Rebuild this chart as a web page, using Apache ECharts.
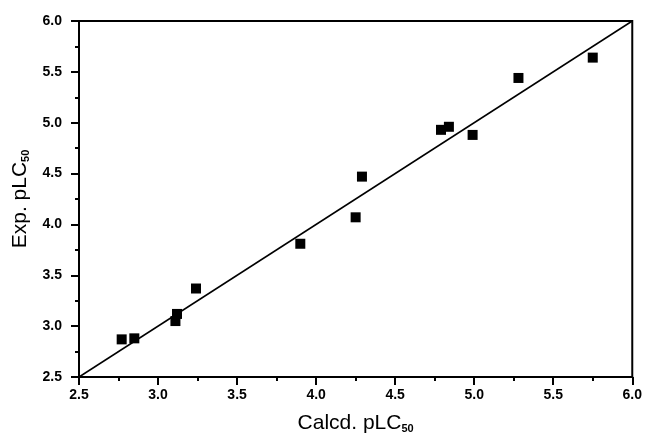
<!DOCTYPE html>
<html>
<head>
<meta charset="utf-8">
<script src="https://cdn.jsdelivr.net/npm/echarts@6/dist/echarts.min.js"></script>
<style>
  html, body { margin: 0; padding: 0; background: #fff; }
  #chart { width: 645px; height: 439px; }
</style>
</head>
<body>
<div id="chart"></div>
<script>
// calculated vs experimental pLC50
const calcd = [2.77, 2.85, 3.11, 3.12, 3.24, 3.90, 4.25, 4.29, 4.79, 4.84, 4.99, 5.28, 5.75]
const exp = [2.87, 2.88, 3.05, 3.12, 3.37, 3.81, 4.07, 4.47, 4.93, 4.96, 4.88, 5.44, 5.64]
const fitLine = [[2.5, 2.5], [6.0, 6.0]]
const axisMin = 2.5
const axisMax = 6.0
const step = 0.5

const points = calcd.map((x, i) => [x, exp[i]])

const nameRich = {
  sub: { fontSize: 11, fontWeight: 'bold', verticalAlign: 'bottom', padding: [11, 0, 0, 0], color: '#000', fontFamily: 'Liberation Sans' }
}

const valueAxis = (name, gap, rotate) => ({
  type: 'value',
  min: axisMin,
  max: axisMax,
  interval: step,
  name: name,
  nameLocation: 'middle',
  nameGap: gap,
  nameRotate: rotate,
  nameTextStyle: { fontSize: 21, color: '#000', fontFamily: 'Liberation Sans', rich: nameRich },
  axisLine: { show: true, lineStyle: { color: '#000', width: 2 } },
  axisTick: { show: true, inside: false, length: 8, lineStyle: { color: '#000', width: 2 } },
  minorTick: { show: true, splitNumber: 2, length: 4, lineStyle: { color: '#000', width: 2 } },
  splitLine: { show: false },
  axisLabel: {
    color: '#000',
    fontSize: 14,
    fontWeight: 'bold',
    fontFamily: 'Liberation Sans',
    formatter: v => v.toFixed(1)
  }
})

const chart = echarts.init(document.getElementById('chart'))
const xAxis = valueAxis('Calcd. pLC{sub|50}', 35, 0)
xAxis.axisLabel.margin = 11
const yAxis = valueAxis('Exp. pLC{sub|50}', 47, 90)
yAxis.axisLabel.margin = 17

chart.setOption({
  animation: false,
  grid: {
    left: 79, right: 10, top: 21, bottom: 59,
    show: true,
    borderColor: '#000',
    borderWidth: 2
  },
  xAxis: xAxis,
  yAxis: yAxis,
  series: [
    {
      type: 'line',
      data: fitLine,
      symbol: 'none',
      lineStyle: { color: '#000', width: 1.5 },
      z: 1
    },
    {
      type: 'scatter',
      data: points,
      symbol: 'rect',
      symbolSize: 10,
      itemStyle: { color: '#000', opacity: 1 },
      z: 2
    }
  ]
})
</script>
</body>
</html>
